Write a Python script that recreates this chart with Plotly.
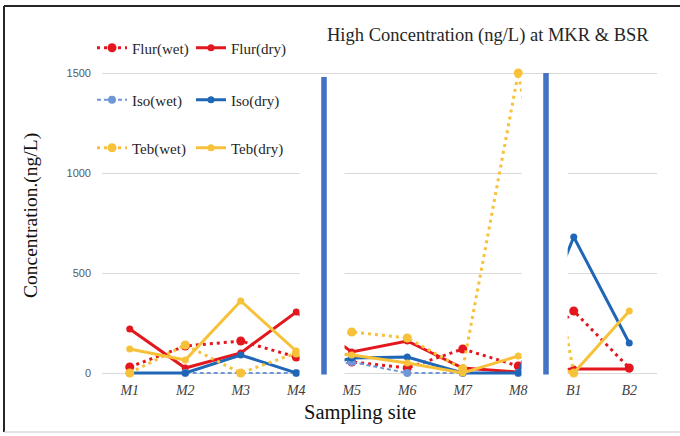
import plotly.graph_objects as go

sites = ["M1", "M2", "M3", "M4", "M5", "M6", "M7", "M8", "B1", "B2"]
flur_wet = [30, 135, 160, 80, 55, 25, 120, 35, 310, 25]
flur_dry = [220, 25, 100, 305, 105, 160, 25, 5, 20, 20]
iso_wet = [0, 0, 0, 0, 55, 0, 0, 0, None, None]
iso_dry = [0, 0, 90, 0, 75, 80, 0, 0, 680, 150]
teb_wet = [0, 140, 0, 100, 205, 175, 20, 1500, 0, None]
teb_dry = [120, 65, 360, 110, 90, 50, 0, 85, 0, 310]
y_ticks = [0, 500, 1000, 1500]

RED = "#E3171E"
BLUE = "#1F67B6"
LBLUE = "#6F97D8"
YEL = "#F7C13A"

# plot area pixel geometry
L, R, T, B = 102, 657, 70, 376
W, H = R - L, B - T


def px(x):
    return (x - L) / W


def py(y):
    return (B - y) / H


fig = go.Figure()

series = [
    ("Flur(wet)", flur_wet, RED, "3px,4px", 3, 9, "legend"),
    ("Flur(dry)", flur_dry, RED, "solid", 3, 7, "legend"),
    ("Iso(wet)", iso_wet, LBLUE, "4px,3px", 2, 8, "legend2"),
    ("Iso(dry)", iso_dry, BLUE, "solid", 3, 7, "legend2"),
    ("Teb(wet)", teb_wet, YEL, "3px,4px", 3, 9, "legend3"),
    ("Teb(dry)", teb_dry, YEL, "solid", 3, 7, "legend3"),
]
for name, vals, col, dash, lw, ms, lg in series:
    fig.add_trace(go.Scatter(
        x=sites, y=vals, name=name, mode="lines+markers",
        line=dict(color=col, width=lw, dash=dash),
        marker=dict(color=col, size=ms),
        legend=lg, connectgaps=False, cliponaxis=False,
    ))

shapes = []
# white masks hiding the links between site groups
for x0, x1 in [(3.06, 3.87), (7.06, 7.89)]:
    shapes.append(dict(type="rect", xref="x", yref="y", x0=x0, x1=x1, y0=-15, y1=1490,
                       fillcolor="white", line=dict(width=0), layer="above"))
# blue separator bars
for xc, ytop in [(3.5, 1480), (7.5, 1500)]:
    shapes.append(dict(type="rect", xref="x", yref="y", x0=xc - 0.05, x1=xc + 0.05,
                       y0=-8, y1=ytop, fillcolor="#4472C4", line=dict(width=0), layer="above"))
# outer frame
shapes.append(dict(type="line", xref="paper", yref="paper", x0=px(4), x1=px(4), y0=py(6), y1=py(432),
                   line=dict(color="#262626", width=2)))
shapes.append(dict(type="line", xref="paper", yref="paper", x0=px(4), x1=px(680), y0=py(6), y1=py(6),
                   line=dict(color="#262626", width=2)))
shapes.append(dict(type="line", xref="paper", yref="paper", x0=px(4), x1=px(680), y0=py(432), y1=py(432),
                   line=dict(color="#C8C8C8", width=1)))

serif = "Liberation Serif"
leg_common = dict(orientation="h", font=dict(family=serif, size=15, color="#262626"),
                  bgcolor="rgba(0,0,0,0)", xanchor="left", yanchor="middle",
                  entrywidth=54, itemclick=False, tracegroupgap=0)

fig.update_layout(
    width=680, height=436,
    margin=dict(l=L, r=680 - R, t=T, b=436 - B, autoexpand=False),
    paper_bgcolor="white", plot_bgcolor="white",
    showlegend=True,
    legend=dict(x=px(92), y=py(48), **leg_common),
    legend2=dict(x=px(92), y=py(100), **leg_common),
    legend3=dict(x=px(92), y=py(148), **leg_common),
    xaxis=dict(type="category", range=[-0.5, 9.5], showgrid=False, showline=False, zeroline=False,
               ticks="", ticklabelstandoff=4, automargin=False,
               tickfont=dict(family=serif, size=14, color="#404040", style="italic")),
    yaxis=dict(range=[-15, 1515], tickvals=y_ticks, showgrid=True, gridcolor="#D9D9D9", gridwidth=1,
               zeroline=False, showline=False, ticks="", ticklabelstandoff=10, automargin=False,
               tickfont=dict(family="Liberation Sans", size=11, color="#595959")),
    shapes=shapes,
    annotations=[
        dict(text="High Concentration (ng/L) at MKR &amp; BSR", xref="paper", yref="paper",
             x=px(488), y=py(36), xanchor="center", yanchor="middle", showarrow=False,
             font=dict(family=serif, size=18.5, color="#262626")),
        dict(text="Sampling site", xref="paper", yref="paper",
             x=px(360), y=py(412), xanchor="center", yanchor="middle", showarrow=False,
             font=dict(family=serif, size=20.5, color="#111111")),
        dict(text="Concentration.(ng/L)", xref="paper", yref="paper", textangle=-90,
             x=px(31), y=py(216), xanchor="center", yanchor="middle", showarrow=False,
             font=dict(family=serif, size=19.5, color="#111111")),
    ],
)

fig.write_html("out.html", config={"displayModeBar": False},
               post_script="document.body.style.margin='0';document.body.style.overflow='hidden';")
